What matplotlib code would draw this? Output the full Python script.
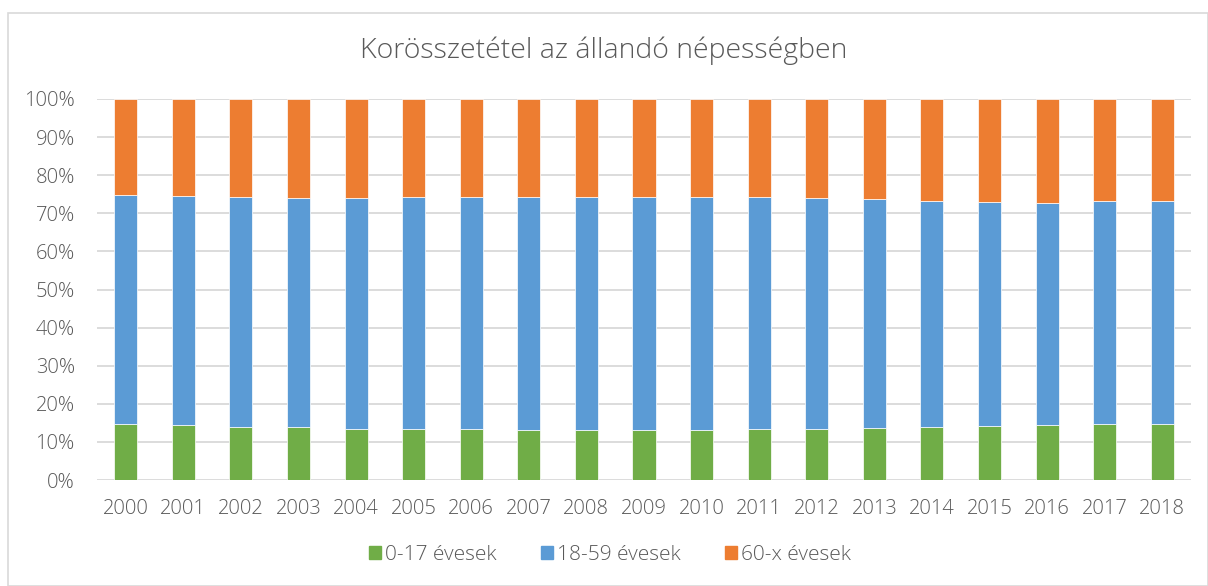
import matplotlib
matplotlib.use("Agg")
import matplotlib.pyplot as plt
from matplotlib.patches import Rectangle
import numpy as np

years = [str(y) for y in range(2000, 2019)]
age_0_17 = [14.6, 14.4, 14.0, 13.8, 13.4, 13.3, 13.3, 13.1, 13.1, 13.1,
            13.1, 13.3, 13.5, 13.7, 14.0, 14.2, 14.4, 14.6, 14.6]
top_18_59 = [74.7, 74.5, 74.2, 74.1, 74.0, 74.2, 74.3, 74.3, 74.3, 74.3,
             74.3, 74.2, 74.1, 73.7, 73.3, 73.0, 72.8, 73.1, 73.3]
age_18_59 = [t - a for t, a in zip(top_18_59, age_0_17)]
age_60_x = [100 - t for t in top_18_59]
series_names = ["0-17 évesek", "18-59 évesek", "60-x évesek"]
colors = ["#70AD47", "#5B9BD5", "#ED7D31"]

plt.rcParams['font.family'] = ['Open Sans', 'DejaVu Sans']
W, H = 1208, 586
fig = plt.figure(figsize=(W / 100, H / 100), dpi=100)
ax = fig.add_axes([97 / W, 1 - 480 / H, (1191 - 97) / W, (480 - 99) / H])

# outer border
fig.patches.append(Rectangle((8 / W, 0), (W - 8) / W, 1 - 13 / H, transform=fig.transFigure,
                             fill=False, edgecolor="#D9D9D9", linewidth=1.2))

x = np.arange(len(years))
w = 0.4
bottom = np.zeros(len(years))
for name, vals, c in zip(series_names, [age_0_17, age_18_59, age_60_x], colors):
    ax.bar(x, vals, w, bottom=bottom, color=c, edgecolor="white", linewidth=0.5,
           label=name, zorder=3)
    bottom += np.array(vals)

ax.set_xlim(-0.5, len(years) - 0.5)
ax.set_ylim(0, 100)
ax.set_yticks(np.arange(0, 101, 10))
ax.set_yticklabels([f"{v}%" for v in range(0, 101, 10)])
ax.set_xticks(x)
ax.set_xticklabels(years)
ax.grid(axis='y', color="#D9D9D9", linewidth=1.3, zorder=0)
for s in ax.spines.values():
    s.set_visible(False)
ax.tick_params(length=0, labelsize=14.5, colors="#595959", pad=16)
ax.tick_params(axis='x', pad=14)
for t in ax.get_xticklabels() + ax.get_yticklabels():
    t.set_fontweight('light')

fig.text(0.5, 1 - 51 / H, "Korösszetétel az állandó népességben", ha='center', va='center',
         fontsize=20.5, color="#595959", fontweight='light')

handles = [Rectangle((0, 0), 1, 1, color=c) for c in colors]
fig.legend(handles, series_names, loc='center', bbox_to_anchor=(0.505, 1 - 555 / H), ncol=3,
           frameon=False, labelcolor="#595959", handlelength=0.6, handleheight=0.6,
           handletextpad=0.2, columnspacing=2.1, prop={'weight': 'light', 'size': 15})

fig.savefig("out.png", dpi=100)
